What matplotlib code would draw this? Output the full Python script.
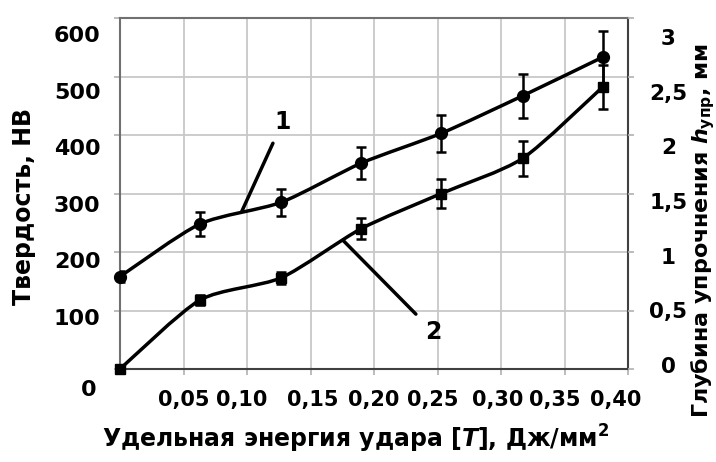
import numpy as np
import matplotlib.pyplot as plt
from matplotlib.path import Path
from matplotlib.patches import PathPatch
from matplotlib.transforms import ScaledTranslation

plt.rcParams['font.family'] = 'DejaVu Sans'
plt.rcParams['font.weight'] = 'bold'
plt.rcParams['mathtext.fontset'] = 'custom'
plt.rcParams['mathtext.rm'] = 'DejaVu Sans:bold'
plt.rcParams['mathtext.it'] = 'DejaVu Sans:italic:bold'
plt.rcParams['mathtext.bf'] = 'DejaVu Sans:bold'

# data
energy = [0.0, 0.063, 0.127, 0.19, 0.253, 0.317, 0.38]      # Дж/мм2
hardness = [158, 248, 285, 352, 403, 467, 533]              # HB, curve 1
hardness_err = [10, 20, 23, 28, 32, 38, 44]
depth = [0.0, 0.59, 0.78, 1.2, 1.5, 1.8, 2.41]              # мм, curve 2
depth_err = [0.03, 0.04, 0.05, 0.09, 0.125, 0.15, 0.19]

xticks = [0.0, 0.05, 0.10, 0.15, 0.20, 0.25, 0.30, 0.35, 0.40]
xtick_labels = ['', '0,05', '0,10', '0,15', '0,20', '0,25', '0,30', '0,35', '0,40']
yticks_left = [0, 100, 200, 300, 400, 500, 600]
yticks_right = [0, 0.5, 1, 1.5, 2, 2.5, 3]
ytick_right_labels = ['0', '0,5', '1', '1,5', '2', '2,5', '3']


def smooth_path(x, y, k=0.12):
    # excel-like smoothed line (cardinal spline as cubic bezier)
    p = np.column_stack([x, y]).astype(float)
    n = len(p)
    verts = [p[0]]
    codes = [Path.MOVETO]
    for i in range(n - 1):
        p0 = p[max(i - 1, 0)]
        p1 = p[i]
        p2 = p[i + 1]
        p3 = p[min(i + 2, n - 1)]
        verts += [p1 + (p2 - p0) * k, p2 - (p3 - p1) * k, p2]
        codes += [Path.CURVE4] * 3
    return Path(verts, codes)


def shift(lbl, dx, dy):
    # move a tick label by (dx, dy) pixels
    lbl.set_transform(lbl.get_transform() +
                      ScaledTranslation(dx / 100, dy / 100, fig.dpi_scale_trans))


fig = plt.figure(figsize=(7.16, 4.62), dpi=100)
ax = fig.add_axes([0.1676, 0.2013, 0.7095, 0.7597])
ax2 = ax.twinx()

ax.set_xlim(0, 0.40)
ax.set_ylim(0, 600)
ax2.set_ylim(0, 3)

ax.grid(True, color='#c8c8c8', lw=1.3)
ax.set_axisbelow(True)

# curve 1 - hardness
ax.add_patch(PathPatch(smooth_path(energy, hardness), fill=False, lw=2.5,
                       ec='black', zorder=3))
ax.errorbar(energy, hardness, yerr=hardness_err, fmt='none', ecolor='black',
            elinewidth=1.8, capsize=3.5, capthick=1.8, zorder=3)
ax.plot(energy, hardness, 'o', ms=8.5, color='black', clip_on=False, zorder=4)

# curve 2 - depth
ax2.add_patch(PathPatch(smooth_path(energy, depth), fill=False, lw=2.5,
                        ec='black', zorder=3))
ax2.errorbar(energy, depth, yerr=depth_err, fmt='none', ecolor='black',
             elinewidth=1.8, capsize=3.5, capthick=1.8, zorder=3)
ax2.plot(energy, depth, 's', ms=7.5, color='black', clip_on=False, zorder=4)

ax.annotate('1', xy=(0.096, 270), xytext=(0.128, 422), fontsize=17,
            fontweight='bold', ha='center', va='center',
            arrowprops=dict(arrowstyle='-', lw=2.5, color='black',
                            shrinkA=5, shrinkB=0))
ax.annotate('2', xy=(0.1756, 220), xytext=(0.247, 63), fontsize=17,
            fontweight='bold', ha='center', va='center',
            arrowprops=dict(arrowstyle='-', lw=2.5, color='black',
                            shrinkA=7, shrinkB=0))

ax.set_xticks(xticks)
ax.set_xticklabels(xtick_labels, fontsize=15, fontweight='bold')
ax.set_yticks(yticks_left)
ax.set_yticklabels([str(v) for v in yticks_left], fontsize=16, fontweight='bold')
ax2.set_yticks(yticks_right)
ax2.set_yticklabels(ytick_right_labels, fontsize=15.5, fontweight='bold')

ax.tick_params(axis='x', length=4, width=1.2, color='#b0b0b0', pad=11)
ax.tick_params(axis='y', length=4, width=1.2, color='#b0b0b0', pad=10)
ax2.tick_params(axis='y', length=4, width=1.2, color='#b0b0b0', pad=25)

# the original labels sit a bit off the gridlines
for lbl, dx in zip(ax.get_xticklabels(), [0, 0, -5, 2, 0, -5, -3, -10, -12]):
    shift(lbl, dx, 0)
for lbl, v in zip(ax2.get_yticklabels(), yticks_right):
    lbl.set_horizontalalignment('center')
    shift(lbl, 0, 4 - 7.67 * v)
for lbl, v in zip(ax.get_yticklabels(), yticks_left):
    if v == 0:
        shift(lbl, -4, -19)
    else:
        shift(lbl, 0, -(4 + 2 * v / 100))

for side in ['left', 'top']:
    ax.spines[side].set_color('#707070')
for side in ['bottom', 'right']:
    ax.spines[side].set_color('#404040')
for sp in ax.spines.values():
    sp.set_linewidth(1.5)
for sp in ax2.spines.values():
    sp.set_visible(False)

ax.set_xlabel('Удельная энергия удара $\\it{[T]}$, Дж/мм$^{\\mathbf{2}}$',
              fontsize=17, fontweight='bold', va='center')
ax.xaxis.set_label_coords(0.463, -0.20)
ax.set_ylabel('Твердость, НВ', fontsize=17, fontweight='bold', va='center')
ax.yaxis.set_label_coords(-0.188, 0.464)
ax2.set_ylabel('Глубина упрочнения $\\it{h}_{\\mathrm{упр}}$, мм',
               fontsize=16, fontweight='bold', rotation=90, va='center')
ax2.yaxis.set_label_coords(1.147, 0.395)

fig.savefig('out.png', dpi=100)
